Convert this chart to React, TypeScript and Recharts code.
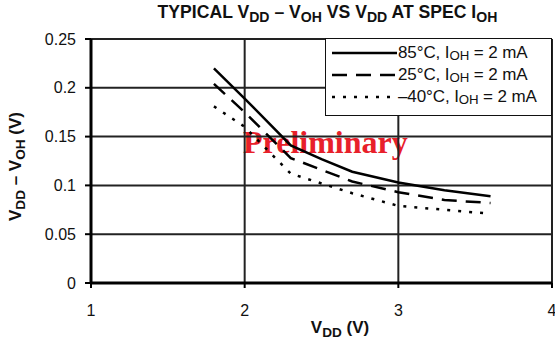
import React from 'react';
import { LineChart, Line, XAxis, YAxis, CartesianGrid } from 'recharts';

const vdd = [1.8, 2.0, 2.3, 2.5, 2.7, 3.0, 3.3, 3.6];
const t85 = [0.22, 0.189, 0.141, 0.127, 0.114, 0.103, 0.095, 0.089];
const t25 = [0.204, 0.175, 0.128, 0.116, 0.104, 0.093, 0.085, 0.082];
const tm40 = [0.181, 0.16, 0.112, 0.102, 0.092, 0.079, 0.075, 0.071];
const xTicks = [1, 2, 3, 4];
const yTicks = [0, 0.05, 0.1, 0.15, 0.2, 0.25];
const seriesLabels = ['85°C, ', '25°C, ', '–40°C, '];

const data = vdd.map((v, i) => ({ v, a: t85[i], b: t25[i], c: tm40[i] }));

const SANS = "'Liberation Sans', Arial, Helvetica, sans-serif";
const NARROW = "'Liberation Sans Narrow', 'Arial Narrow', 'Liberation Sans', sans-serif";

const Sub = ({ children, size = 0.8, shift = 0.3 }: { children: React.ReactNode; size?: number; shift?: number }) => (
  <span style={{ fontSize: `${size}em`, position: 'relative', top: `${shift}em` }}>{children}</span>
);

const dashes = ['', '15 9', '3 8'];

export default function App() {
  return (
    <div style={{ position: 'absolute', left: 0, top: 0, width: 555, height: 345, background: '#fff', overflow: 'hidden' }}>
      {/* Preliminary watermark (behind chart) */}
      <div
        style={{
          position: 'absolute',
          left: 243,
          top: 125,
          fontFamily: "'Liberation Serif', 'Times New Roman', serif",
          fontWeight: 'bold',
          fontSize: 32,
          color: '#e8202a',
          lineHeight: '35px',
          whiteSpace: 'nowrap',
        }}
      >
        Preliminary
      </div>
      <div style={{ position: 'absolute', left: 0, top: 0 }}>
        <LineChart width={555} height={345} data={data} margin={{ top: 39, right: 3, left: 0, bottom: 0 }}>
          <CartesianGrid stroke="#222" strokeWidth={2} />
          <XAxis
            dataKey="v"
            type="number"
            domain={[1, 4]}
            ticks={xTicks}
            height={62}
            interval={0}
            axisLine={{ stroke: '#000', strokeWidth: 3 }}
            tickLine={{ stroke: '#000', strokeWidth: 2 }}
            tickSize={5}
            tickMargin={17}
            tick={{ fill: '#111', fontSize: 16, fontFamily: SANS }}
          />
          <YAxis
            type="number"
            domain={[0, 0.25]}
            ticks={yTicks}
            width={91}
            interval={0}
            axisLine={{ stroke: '#000', strokeWidth: 3 }}
            tickLine={{ stroke: '#000', strokeWidth: 2 }}
            tickSize={6}
            tickMargin={9}
            tick={{ fill: '#111', fontSize: 16, fontFamily: SANS }}
          />
          <Line dataKey="a" type="linear" stroke="#000" strokeWidth={2.5} dot={false} isAnimationActive={false} />
          <Line dataKey="b" type="linear" stroke="#000" strokeWidth={2.5} strokeDasharray={dashes[1]} dot={false} isAnimationActive={false} />
          <Line dataKey="c" type="linear" stroke="#000" strokeWidth={2.5} strokeDasharray={dashes[2]} dot={false} isAnimationActive={false} />
        </LineChart>
      </div>

      {/* Title */}
      <div
        style={{
          position: 'absolute',
          left: 0,
          width: 655,
          top: 3,
          textAlign: 'center',
          fontFamily: NARROW,
          fontWeight: 'bold',
          fontSize: 17.6,
          lineHeight: '19px',
          color: '#111',
          whiteSpace: 'nowrap',
        }}
      >
        TYPICAL V<Sub>DD</Sub> – V<Sub>OH</Sub> VS V<Sub>DD</Sub> AT SPEC I<Sub>OH</Sub>
      </div>

      {/* X axis label */}
      <div
        style={{
          position: 'absolute',
          left: 240,
          width: 200,
          top: 318,
          textAlign: 'center',
          fontFamily: NARROW,
          fontWeight: 'bold',
          fontSize: 17,
          lineHeight: '20px',
          color: '#111',
          whiteSpace: 'nowrap',
        }}
      >
        V<Sub>DD</Sub> (V)
      </div>

      {/* Y axis label */}
      <div
        style={{
          position: 'absolute',
          left: 16,
          top: 166,
          width: 0,
          height: 0,
        }}
      >
        <div
          style={{
            position: 'absolute',
            left: -100,
            top: -10,
            width: 200,
            textAlign: 'center',
            transform: 'rotate(-90deg)',
            fontFamily: NARROW,
            fontWeight: 'bold',
            fontSize: 17,
            lineHeight: '20px',
            color: '#111',
            whiteSpace: 'nowrap',
          }}
        >
          V<Sub>DD</Sub> – V<Sub>OH</Sub> (V)
        </div>
      </div>

      {/* Legend */}
      <div
        style={{
          position: 'absolute',
          left: 325,
          top: 38,
          width: 227,
          height: 78,
          border: '1.5px solid #111',
          boxSizing: 'border-box',
          background: '#fff',
        }}
      >
        {seriesLabels.map((lab, i) => (
          <div
            key={i}
            style={{
              position: 'absolute',
              left: 5,
              top: 4 + i * 22,
              height: 20,
              display: 'flex',
              alignItems: 'center',
              whiteSpace: 'nowrap',
            }}
          >
            <svg width={66} height={20} style={{ display: 'block' }}>
              <line x1={1} y1={10} x2={66} y2={10} stroke="#000" strokeWidth={2.5} strokeDasharray={dashes[i] || undefined} />
            </svg>
            <span style={{ fontFamily: SANS, fontSize: 17, lineHeight: '18px', color: '#111', marginLeft: 1, letterSpacing: '-0.1px' }}>
              {lab}I<Sub size={0.78} shift={0.2}>OH</Sub> = 2 mA
            </span>
          </div>
        ))}
      </div>
    </div>
  );
}
